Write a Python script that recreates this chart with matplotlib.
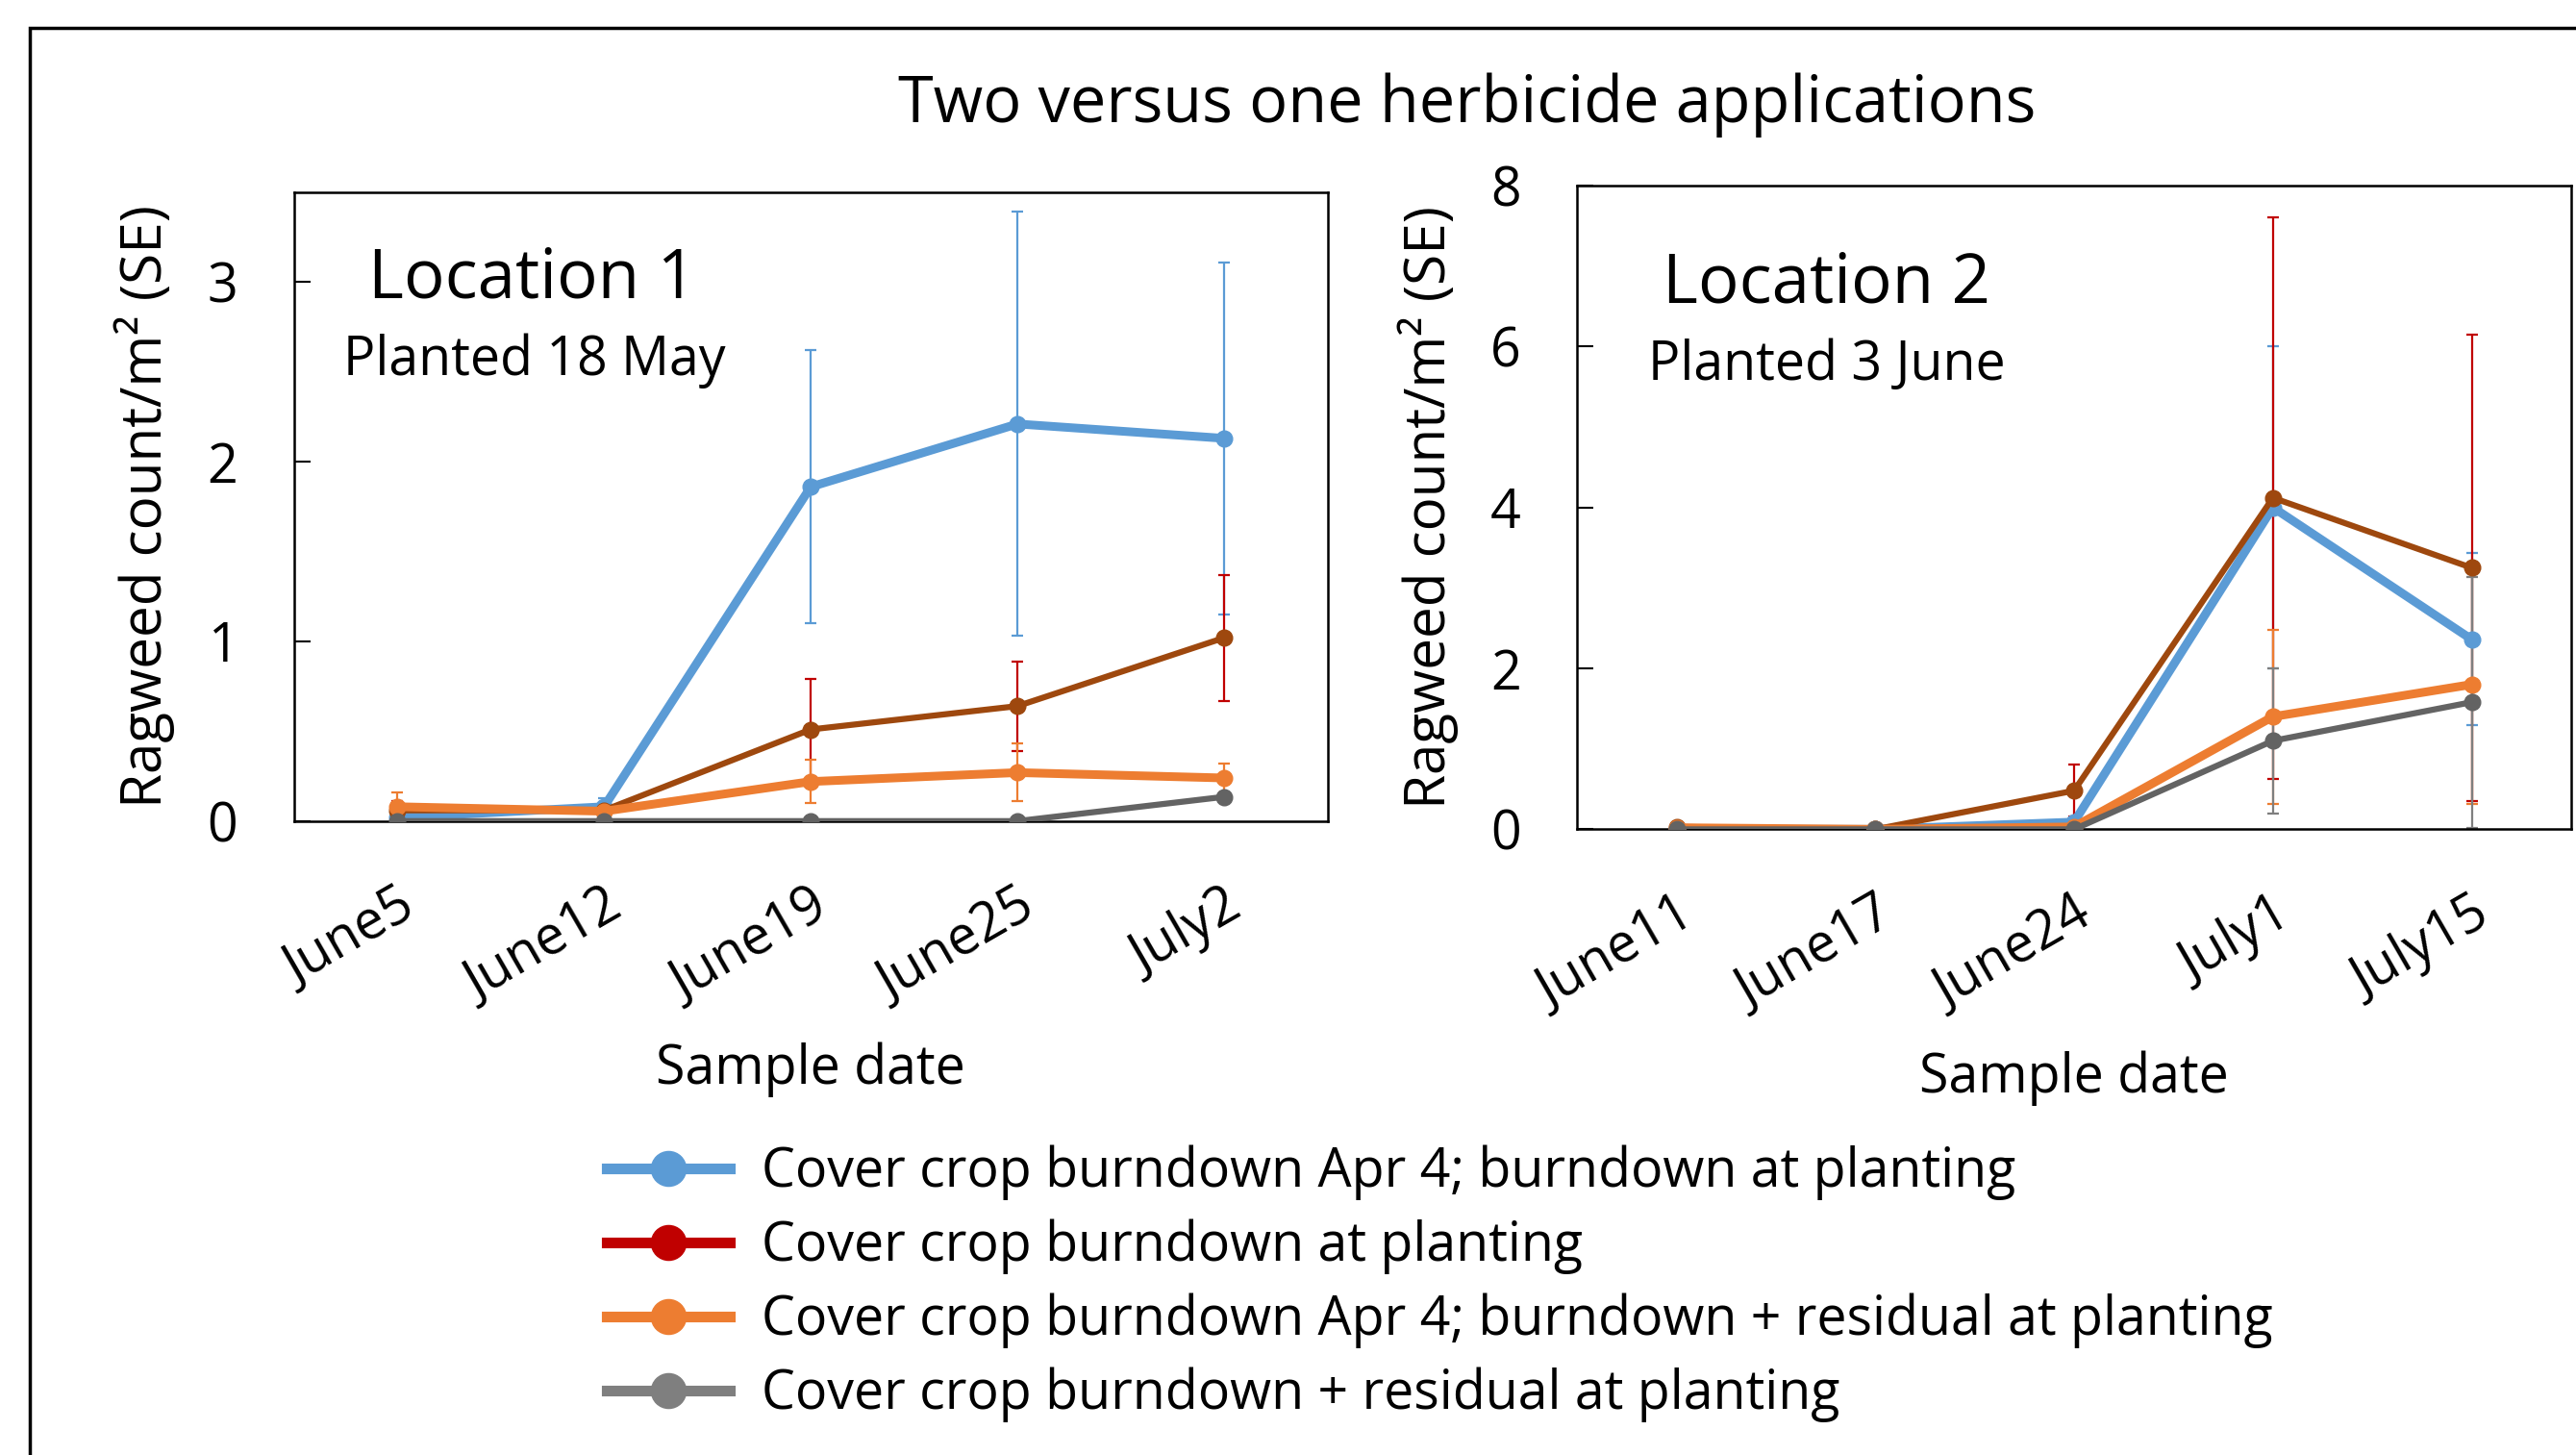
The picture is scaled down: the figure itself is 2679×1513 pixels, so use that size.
import matplotlib
matplotlib.use('Agg')
import matplotlib.pyplot as plt
from matplotlib.lines import Line2D
import numpy as np

plt.rcParams['font.family'] = ['Open Sans', 'DejaVu Sans']

# ---- data ----
dates1 = ['June5', 'June12', 'June19', 'June25', 'July2']
loc1_apr4_burn = [0.02, 0.08, 1.86, 2.21, 2.13]
loc1_apr4_burn_se = [0.0, 0.05, 0.76, 1.18, 0.98]
loc1_plant_burn = [0.06, 0.06, 0.51, 0.64, 1.02]
loc1_plant_burn_se = [0.05, 0.0, 0.28, 0.25, 0.35]
loc1_apr4_resid = [0.08, 0.055, 0.22, 0.27, 0.24]
loc1_apr4_resid_se = [0.08, 0.0, 0.12, 0.16, 0.08]
loc1_resid = [0.0, 0.0, 0.0, 0.0, 0.135]
loc1_resid_se = [0.0, 0.0, 0.0, 0.0, 0.0]

dates2 = ['June11', 'June17', 'June24', 'July1', 'July15']
loc2_apr4_burn = [0.0, 0.0, 0.09, 4.0, 2.36]
loc2_apr4_burn_se = [0.0, 0.0, 0.05, 2.0, 1.07]
loc2_plant_burn = [0.03, 0.0, 0.48, 4.12, 3.25]
loc2_plant_burn_se = [0.0, 0.0, 0.32, 3.49, 2.9]
loc2_apr4_resid = [0.02, 0.0, 0.03, 1.40, 1.80]
loc2_apr4_resid_se = [0.0, 0.0, 0.0, 1.08, 1.48]
loc2_resid = [0.0, 0.0, 0.0, 1.10, 1.58]
loc2_resid_se = [0.0, 0.0, 0.0, 0.9, 1.56]

labels = ['Cover crop burndown Apr 4; burndown at planting',
          'Cover crop burndown at planting',
          'Cover crop burndown Apr 4; burndown + residual at planting',
          'Cover crop burndown + residual at planting']
line_cols = ['#5B9BD5', '#9E480E', '#ED7D31', '#636363']
err_cols = ['#5B9BD5', '#C00000', '#ED7D31', '#7F7F7F']
legend_cols = ['#5B9BD5', '#C00000', '#ED7D31', '#7F7F7F']
widths = [6.5, 4.5, 6.5, 4.5]

fig = plt.figure(figsize=(26.79, 15.13), dpi=100)

# outer frame (left and top edges visible)
fig.add_artist(plt.Rectangle((18/1568, -0.05), 1.1, 1 - 17/886 + 0.05,
                             transform=fig.transFigure, fill=False,
                             edgecolor='black', linewidth=2.5))

ax1 = fig.add_axes([179/1568, 1 - 500/886, (808 - 179)/1568, (500 - 117)/886])
ax2 = fig.add_axes([960/1568, 1 - 505/886, (1565 - 960)/1568, (505 - 113)/886])


def draw(ax, dates, series, ses, ymax, yticks):
    x = np.arange(len(dates))
    for i, (y, se) in enumerate(zip(series, ses)):
        ax.errorbar(x, y, yerr=se, fmt='none', ecolor=err_cols[i],
                    elinewidth=1.6, capsize=4, capthick=1.6, zorder=2)
    for i, y in enumerate(series):
        ax.plot(x, y, '-o', color=line_cols[i], lw=widths[i], ms=12, zorder=3)
    ax.set_xlim(-0.5, len(dates) - 0.5)
    ax.set_ylim(0, ymax)
    ax.set_yticks(yticks)
    ax.set_xticks(x)
    ax.set_xticklabels(dates, rotation=30, ha='right', rotation_mode='anchor')
    ax.tick_params(axis='x', length=0, pad=44, labelsize=40)
    ax.tick_params(axis='y', direction='in', length=12, width=1.5, labelsize=40, pad=42)
    for s in ax.spines.values():
        s.set_linewidth(1.8)
    ax.set_xlabel('Sample date', fontsize=40, labelpad=22)
    ax.set_ylabel('Ragweed count/m² (SE)', fontsize=42, labelpad=24)


draw(ax1, dates1, [loc1_apr4_burn, loc1_plant_burn, loc1_apr4_resid, loc1_resid],
     [loc1_apr4_burn_se, loc1_plant_burn_se, loc1_apr4_resid_se, loc1_resid_se],
     3.5, [0, 1, 2, 3])
draw(ax2, dates2, [loc2_apr4_burn, loc2_plant_burn, loc2_apr4_resid, loc2_resid],
     [loc2_apr4_burn_se, loc2_plant_burn_se, loc2_apr4_resid_se, loc2_resid_se],
     8, [0, 2, 4, 6, 8])

fig.text(893/1568, 1 - 64/886, 'Two versus one herbicide applications',
         ha='center', va='center', fontsize=48)
fig.text(324/1568, 1 - 170/886, 'Location 1', ha='center', va='center', fontsize=51)
fig.text(325/1568, 1 - 220/886, 'Planted 18 May', ha='center', va='center', fontsize=40)
fig.text(1112/1568, 1 - 173/886, 'Location 2', ha='center', va='center', fontsize=51)
fig.text(1112/1568, 1 - 223/886, 'Planted 3 June', ha='center', va='center', fontsize=40)

handles = [Line2D([], [], color=c, lw=8, marker='o', ms=26) for c in legend_cols]
fig.legend(handles, labels, loc='upper left', bbox_to_anchor=(340/1568, 1 - 668/886),
           frameon=False, fontsize=40, handlelength=2.3, labelspacing=0.35,
           handletextpad=0.6)

fig.savefig('out.png', dpi=100)
